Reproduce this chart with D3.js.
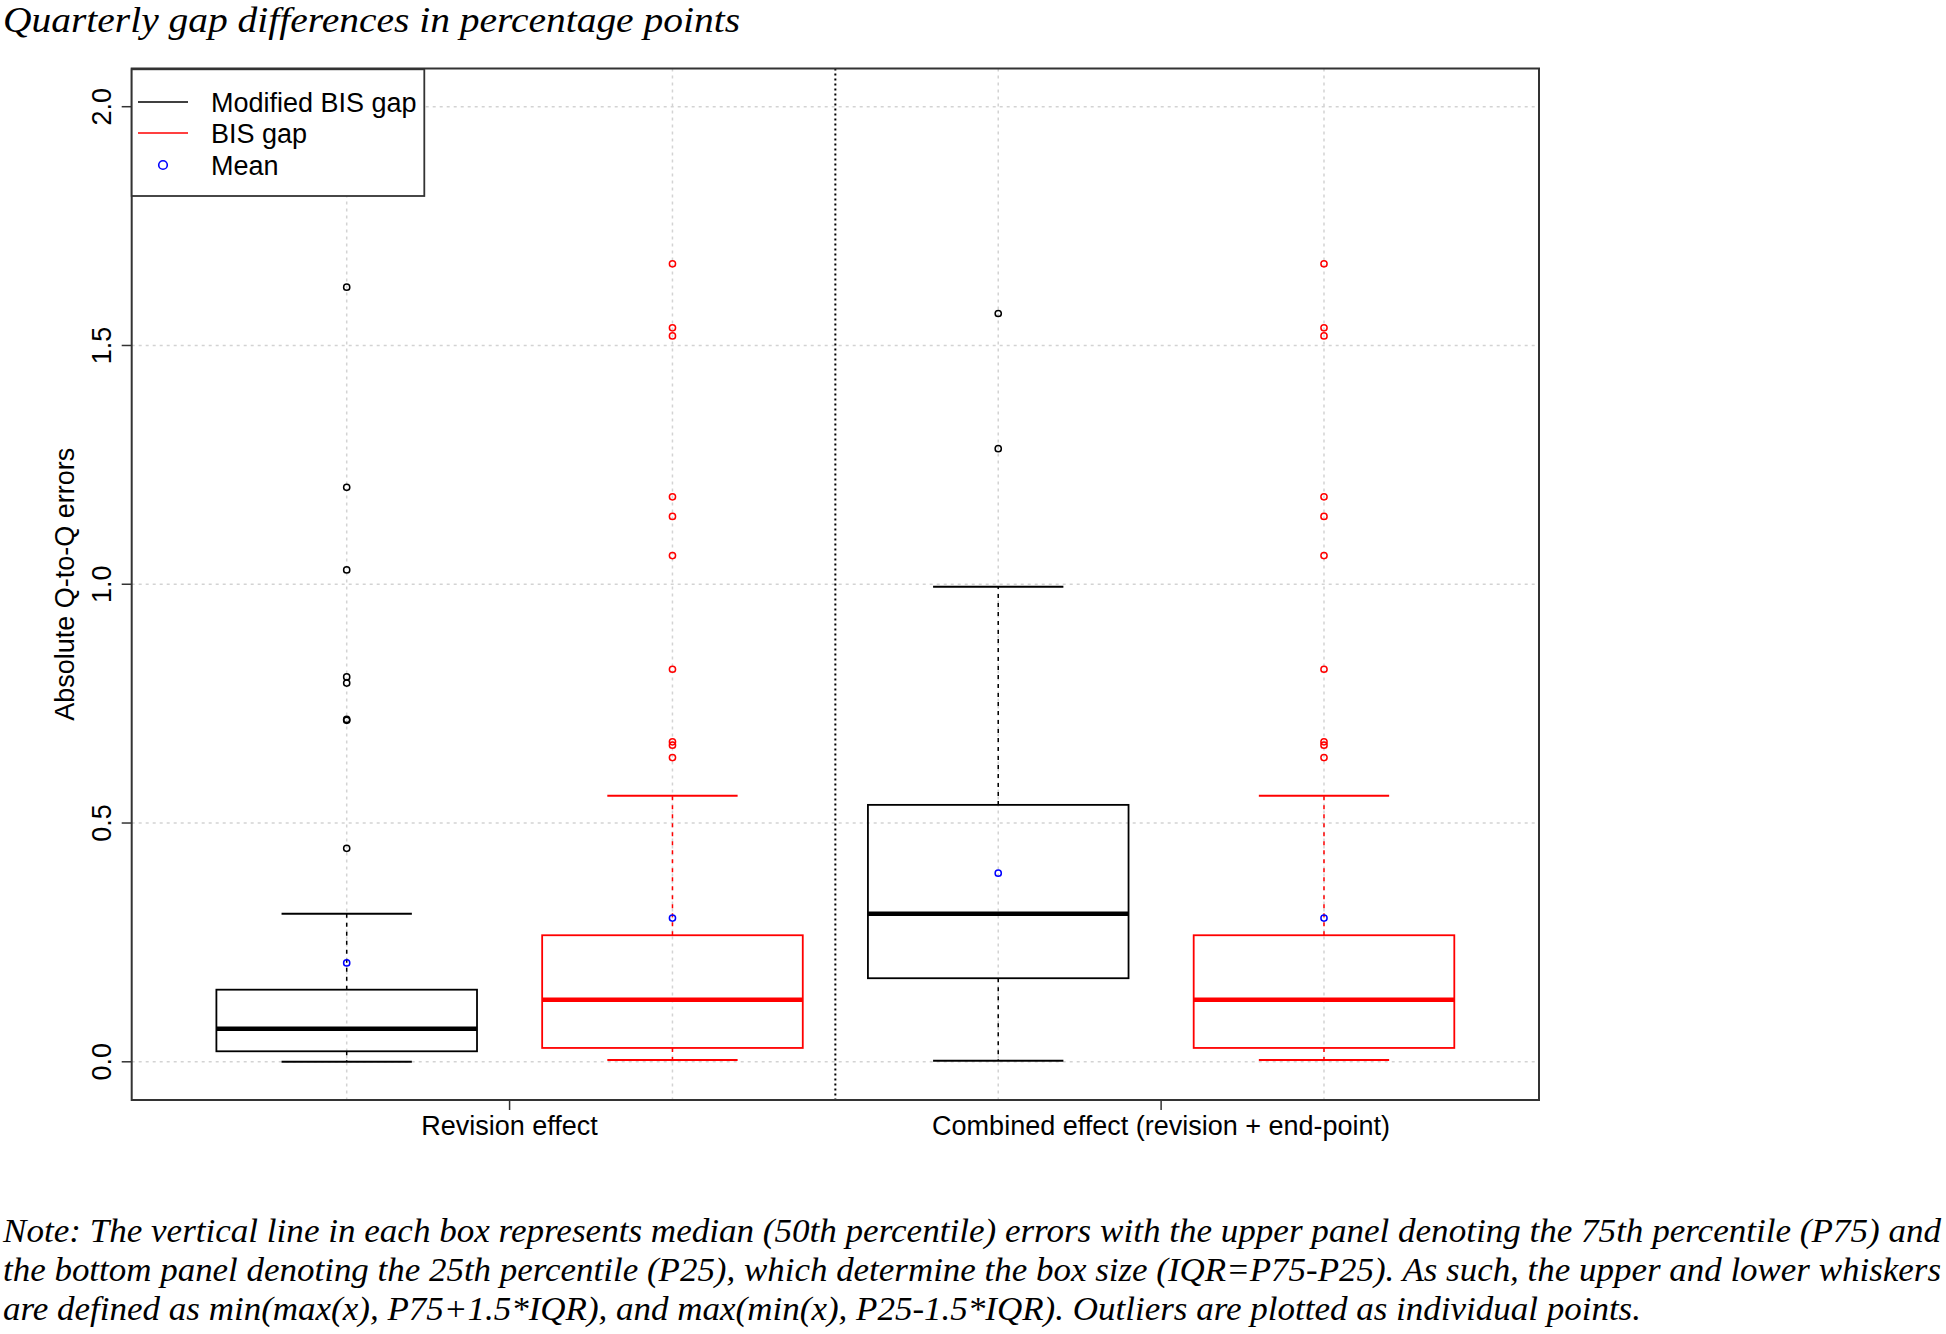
<!DOCTYPE html>
<html>
<head>
<meta charset="utf-8">
<script src="https://cdn.jsdelivr.net/npm/d3@7"></script>
<style>
  body { margin: 0; background: #fff; }
  svg { display: block; }
</style>
</head>
<body>
<div id="chart"></div>
<script>
// Box statistics, in box order:
// Revision/Modified, Revision/BIS, Combined/Modified, Combined/BIS
const groups = ['Revision effect', 'Combined effect (revision + end-point)'];
const seriesNames = ['Modified BIS gap', 'BIS gap'];
const boxSeries = [0, 1, 0, 1];
const boxPos = [1, 2, 3, 4];
const lowerWhisker = [0.000, 0.004, 0.002, 0.004];
const q1 = [0.022, 0.029, 0.175, 0.029];
const median = [0.069, 0.130, 0.310, 0.130];
const q3 = [0.151, 0.265, 0.538, 0.265];
const upperWhisker = [0.310, 0.557, 0.995, 0.557];
const means = [0.207, 0.301, 0.395, 0.301];
const outliers = [
  [1.622, 1.203, 1.030, 0.806, 0.793, 0.717, 0.715, 0.447],
  [1.671, 1.537, 1.520, 1.183, 1.142, 1.060, 0.822, 0.670, 0.663, 0.637],
  [1.567, 1.284],
  [1.671, 1.537, 1.520, 1.183, 1.142, 1.060, 0.822, 0.670, 0.663, 0.637]
];
const yTicks = [0, 0.5, 1.0, 1.5, 2.0];

const W = 1946, H = 1334;
const plot = { left: 131.7, right: 1539, top: 68.5, bottom: 1100 };
const colors = ['#000000', '#ff0000'];
const sans = '"Liberation Sans", Arial, sans-serif';
const serif = '"Liberation Serif", "Times New Roman", serif';
const fs = 27;

const svg = d3.select('#chart').append('svg')
  .attr('width', W).attr('height', H);

const x = d3.scaleLinear().domain([0.34, 4.66]).range([plot.left, plot.right]);
const y = d3.scaleLinear().domain([-0.08, 2.08]).range([plot.bottom, plot.top]);

// Title
svg.append('text')
  .attr('x', 3).attr('y', 32)
  .attr('font-family', serif).attr('font-style', 'italic')
  .attr('font-size', 36).attr('fill', '#000')
  .attr('textLength', 737).attr('lengthAdjust', 'spacingAndGlyphs')
  .text('Quarterly gap differences in percentage points');

// Grid
const grid = svg.append('g').attr('stroke', '#d3d3d3').attr('stroke-width', 1.5)
  .attr('stroke-dasharray', '3,4');
yTicks.forEach(t => {
  grid.append('line').attr('x1', plot.left).attr('x2', plot.right)
    .attr('y1', y(t)).attr('y2', y(t));
});
boxPos.forEach(p => {
  grid.append('line').attr('x1', x(p)).attr('x2', x(p))
    .attr('y1', plot.top).attr('y2', plot.bottom);
});

// Divider between the two groups
svg.append('line')
  .attr('x1', x(2.5)).attr('x2', x(2.5))
  .attr('y1', plot.top).attr('y2', plot.bottom)
  .attr('stroke', '#000').attr('stroke-width', 2)
  .attr('stroke-dasharray', '2,3');

// Boxes
const halfBox = 0.4, halfStaple = 0.2;
boxPos.forEach((p, i) => {
  const c = colors[boxSeries[i]];
  const g = svg.append('g');
  // whiskers
  g.append('line').attr('x1', x(p)).attr('x2', x(p))
    .attr('y1', y(q3[i])).attr('y2', y(upperWhisker[i]))
    .attr('stroke', c).attr('stroke-width', 1.5).attr('stroke-dasharray', '4,5');
  g.append('line').attr('x1', x(p)).attr('x2', x(p))
    .attr('y1', y(q1[i])).attr('y2', y(lowerWhisker[i]))
    .attr('stroke', c).attr('stroke-width', 1.5).attr('stroke-dasharray', '4,5');
  // staples
  [upperWhisker[i], lowerWhisker[i]].forEach(v => {
    g.append('line').attr('x1', x(p - halfStaple)).attr('x2', x(p + halfStaple))
      .attr('y1', y(v)).attr('y2', y(v))
      .attr('stroke', c).attr('stroke-width', 2);
  });
  // box
  g.append('rect')
    .attr('x', x(p - halfBox)).attr('width', x(p + halfBox) - x(p - halfBox))
    .attr('y', y(q3[i])).attr('height', y(q1[i]) - y(q3[i]))
    .attr('fill', 'none').attr('stroke', c).attr('stroke-width', 1.8);
  // median
  g.append('line').attr('x1', x(p - halfBox)).attr('x2', x(p + halfBox))
    .attr('y1', y(median[i])).attr('y2', y(median[i]))
    .attr('stroke', c).attr('stroke-width', 4.5);
  // outliers
  g.selectAll('circle.out').data(outliers[i]).enter().append('circle')
    .attr('class', 'out')
    .attr('cx', x(p)).attr('cy', d => y(d)).attr('r', 3.1)
    .attr('fill', 'none').attr('stroke', c).attr('stroke-width', 1.5);
  // mean
  g.append('circle').attr('cx', x(p)).attr('cy', y(means[i])).attr('r', 3.1)
    .attr('fill', 'none').attr('stroke', '#0000ff').attr('stroke-width', 1.5);
});

// Plot frame
svg.append('rect')
  .attr('x', plot.left).attr('y', plot.top)
  .attr('width', plot.right - plot.left).attr('height', plot.bottom - plot.top)
  .attr('fill', 'none').attr('stroke', '#333').attr('stroke-width', 2);

// Y axis ticks and labels
yTicks.forEach(t => {
  svg.append('line').attr('x1', plot.left - 10).attr('x2', plot.left)
    .attr('y1', y(t)).attr('y2', y(t)).attr('stroke', '#333').attr('stroke-width', 1.5);
  svg.append('text')
    .attr('transform', `translate(111,${y(t)}) rotate(-90)`)
    .attr('text-anchor', 'middle')
    .attr('font-family', sans).attr('font-size', fs).attr('fill', '#000')
    .text(d3.format('.1f')(t));
});
svg.append('text')
  .attr('transform', `translate(74,${(plot.top + plot.bottom) / 2}) rotate(-90)`)
  .attr('text-anchor', 'middle')
  .attr('font-family', sans).attr('font-size', fs).attr('fill', '#000')
  .text('Absolute Q-to-Q errors');

// X axis group ticks and labels
groups.forEach((gname, gi) => {
  const cx = x(1.5 + gi * 2);
  svg.append('line').attr('x1', cx).attr('x2', cx)
    .attr('y1', plot.bottom).attr('y2', plot.bottom + 10)
    .attr('stroke', '#333').attr('stroke-width', 1.5);
  svg.append('text')
    .attr('x', cx).attr('y', 1135)
    .attr('text-anchor', 'middle')
    .attr('font-family', sans).attr('font-size', fs).attr('fill', '#000')
    .text(gname);
});

// Legend
const leg = svg.append('g');
leg.append('rect').attr('x', plot.left).attr('y', plot.top + 0.8)
  .attr('width', 424.3 - plot.left).attr('height', 196 - plot.top - 0.8)
  .attr('fill', '#fff').attr('stroke', '#333').attr('stroke-width', 1.8);
const legRows = [102, 133, 165];
seriesNames.forEach((s, i) => {
  leg.append('line').attr('x1', 138).attr('x2', 188)
    .attr('y1', legRows[i]).attr('y2', legRows[i])
    .attr('stroke', colors[i]).attr('stroke-width', 1.5);
  leg.append('text').attr('x', 211).attr('y', legRows[i] + 10)
    .attr('font-family', sans).attr('font-size', fs).attr('fill', '#000')
    .text(s);
});
leg.append('circle').attr('cx', 163).attr('cy', legRows[2]).attr('r', 4.3)
  .attr('fill', 'none').attr('stroke', '#0000ff').attr('stroke-width', 1.6);
leg.append('text').attr('x', 211).attr('y', legRows[2] + 10)
  .attr('font-family', sans).attr('font-size', fs).attr('fill', '#000')
  .text('Mean');

// Note
const noteLines = [
  'Note: The vertical line in each box represents median (50th percentile) errors with the upper panel denoting the 75th percentile (P75) and',
  'the bottom panel denoting the 25th percentile (P25), which determine the box size (IQR=P75-P25). As such, the upper and lower whiskers',
  'are defined as min(max(x), P75+1.5*IQR), and max(min(x), P25-1.5*IQR). Outliers are plotted as individual points.'
];
const noteWidths = [1938, 1938, 1638];
const noteY = [1242, 1281, 1320];
noteLines.forEach((line, i) => {
  svg.append('text')
    .attr('x', 3).attr('y', noteY[i])
    .attr('font-family', serif).attr('font-style', 'italic')
    .attr('font-size', 33).attr('fill', '#000')
    .attr('textLength', noteWidths[i]).attr('lengthAdjust', 'spacingAndGlyphs')
    .text(line);
});
</script>
</body>
</html>
